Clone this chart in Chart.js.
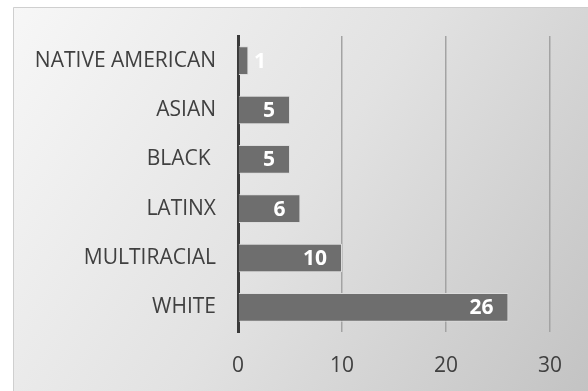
<!DOCTYPE html>
<html><head><meta charset="utf-8">
<script src="https://cdn.jsdelivr.net/npm/chart.js@4/dist/chart.umd.min.js"></script>
<style>html,body{margin:0;padding:0;background:#fff;}#wrap{width:588px;height:391px;position:relative;}</style>
</head><body><div id="wrap"><canvas id="c" width="588" height="391"></canvas></div>
<script>
const categories = ["NATIVE AMERICAN", "ASIAN", "BLACK ", "LATINX", "MULTIRACIAL", "WHITE"];
const values = [1, 5, 5, 6, 10, 26];
const xTicks = [0, 10, 20, 30];

const bgPlugin = {
  id: 'bg',
  beforeDraw(chart) {
    const ctx = chart.ctx;
    ctx.save();
    const x0 = 13, y0 = 7, x1 = 588, y1 = 391;
    const g = ctx.createLinearGradient(x0, y0, x1, y1);
    g.addColorStop(0, '#f7f7f7');
    g.addColorStop(0.5, '#e2e2e2');
    g.addColorStop(1, '#c3c3c3');
    ctx.fillStyle = g;
    ctx.fillRect(x0, y0, x1 - x0, y1 - y0);
    ctx.strokeStyle = '#cfcfcf';
    ctx.lineWidth = 1;
    ctx.beginPath();
    ctx.moveTo(x0 + 0.5, y1);
    ctx.lineTo(x0 + 0.5, y0 + 0.5);
    ctx.lineTo(x1, y0 + 0.5);
    ctx.stroke();
    ctx.restore();
  }
};

const labelPlugin = {
  id: 'vals',
  afterDatasetsDraw(chart) {
    const ctx = chart.ctx;
    const meta = chart.getDatasetMeta(0);
    const base = chart.scales.x.getPixelForValue(0);
    ctx.save();
    ctx.fillStyle = '#ffffff';
    ctx.font = 'bold 21px "Open Sans"';
    ctx.textAlign = 'right';
    ctx.textBaseline = 'middle';
    meta.data.forEach((bar, i) => {
      const x = Math.max(bar.x - 15, base + 28);
      ctx.fillText(String(values[i]), x, bar.y + 1);
    });
    ctx.restore();
  }
};

new Chart(document.getElementById('c'), {
  type: 'bar',
  data: {
    labels: categories,
    datasets: [{
      data: values,
      backgroundColor: '#6e6e6e',
      borderColor: '#dcdcdc',
      borderWidth: 1,
      borderSkipped: 'left',
      categoryPercentage: 1,
      barPercentage: 0.58
    }]
  },
  options: {
    indexAxis: 'y',
    responsive: false,
    animation: false,
    devicePixelRatio: 1,
    layout: { padding: { left: 0, right: 38, top: 36, bottom: 0 } },
    plugins: { legend: { display: false }, tooltip: { enabled: false } },
    scales: {
      x: {
        min: 0, max: 30,
        afterBuildTicks(axis) { axis.ticks = xTicks.map(v => ({ value: v })); },
        afterFit(axis) { axis.height = 59; },
        grid: {
          color: ctx => ctx.tick && ctx.tick.value === 0 ? 'rgba(0,0,0,0)' : '#a3a3a3',
          lineWidth: 1.5,
          drawTicks: false
        },
        border: { display: false },
        ticks: { color: '#404040', font: { family: 'Open Sans', size: 21 }, padding: 21 }
      },
      y: {
        afterFit(axis) { axis.width = 238; },
        grid: { display: false, drawTicks: false },
        border: { display: true, color: '#3a3a3a', width: 3 },
        ticks: { color: '#404040', font: { family: 'Open Sans', size: 21 }, padding: 22 }
      }
    }
  },
  plugins: [bgPlugin, labelPlugin]
});
</script></body></html>
